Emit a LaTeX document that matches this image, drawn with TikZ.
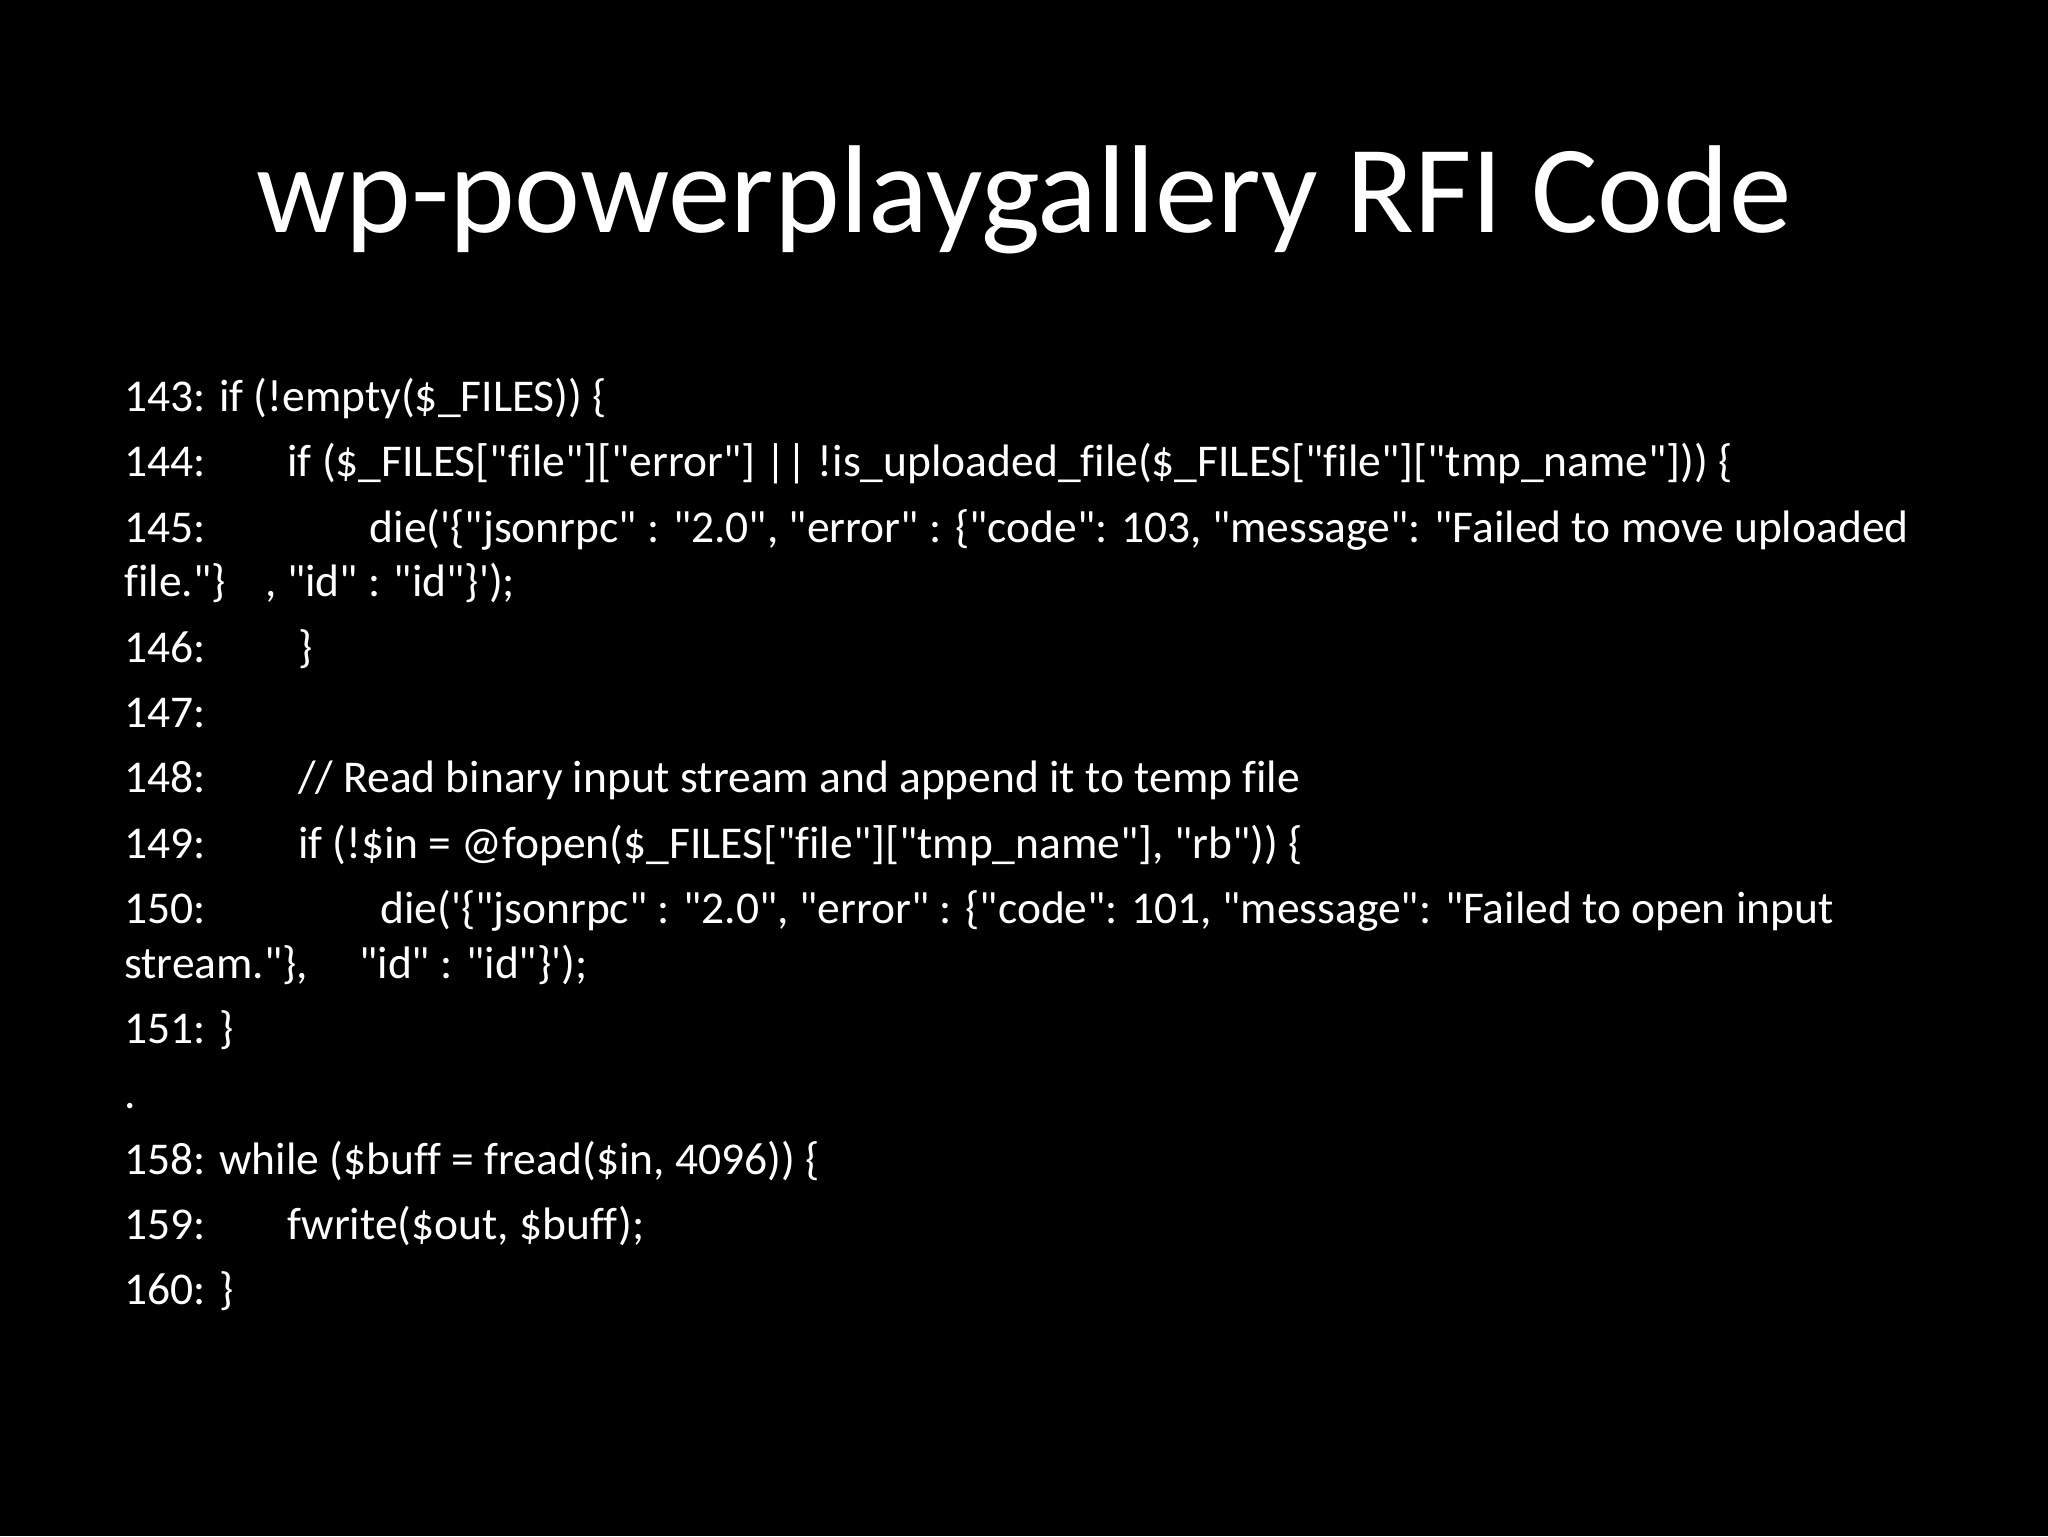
\documentclass[tikz,border=0pt]{standalone}
\usepackage{fontspec}
\newfontfamily\cf{Carlito}[Ligatures=NoCommon]
\begin{document}
\begin{tikzpicture}[x=1.3061pt,y=-1.3061pt]
\tikzset{code/.style={anchor=base west,inner sep=0pt,text=white,font=\cf\fontsize{45.5}{55}\selectfont}}
\fill[black] (0,0) rectangle (1568,1176);
\useasboundingbox (0,0) rectangle (1568,1176);
\node[anchor=base,inner sep=0pt,text=white,font=\cf\fontsize{125}{150}\selectfont] (title) at (784,178) {wp-powerplaygallery RFI Code};
\node[code] (l143) at (95,315) {143: if (!empty(\$\_FILES)) \{};
\node[code] (l144) at (95,365) {144:};
\node[code] (c144) at (220,365) {if (\$\_FILES["file"]["error"] || !is\_uploaded\_file(\$\_FILES["file"]["tmp\_name"])) \{};
\node[code] (l145) at (95,415) {145:};
\node[code] (c145) at (283,415) {die('\{"jsonrpc" : "2.0", "error" : \{"code": 103, "message": "Failed to move uploaded};
\node[code] (d145) at (95,457) {file."\}};
\node[code] (e145) at (203,457) {, "id" : "id"\}');};
\node[code] (l146) at (95,507) {146:};
\node[code] (c146) at (228,507) {\}};
\node[code] (l147) at (95,557) {147:};
\node[code] (l148) at (95,607) {148:};
\node[code] (c148) at (228,607) {// Read binary input stream and append it to temp file};
\node[code] (l149) at (95,657) {149:};
\node[code] (c149) at (228,657) {if (!\$in = @fopen(\$\_FILES["file"]["tmp\_name"], "rb")) \{};
\node[code] (l150) at (95,707) {150:};
\node[code] (c150) at (291,707) {die('\{"jsonrpc" : "2.0", "error" : \{"code": 101, "message": "Failed to open input};
\node[code] (d150) at (95,749) {stream."\},};
\node[code] (e150) at (275,749) {"id" : "id"\}');};
\node[code] (l151) at (95,799) {151: \}};
\node[code] (dot) at (95,849) {.};
\node[code] (l158) at (95,899) {158: while (\$buff = fread(\$in, 4096)) \{};
\node[code] (l159) at (95,949) {159:};
\node[code] (c159) at (220,949) {fwrite(\$out, \$buff);};
\node[code] (l160) at (95,999) {160: \}};
\end{tikzpicture}
\end{document}
